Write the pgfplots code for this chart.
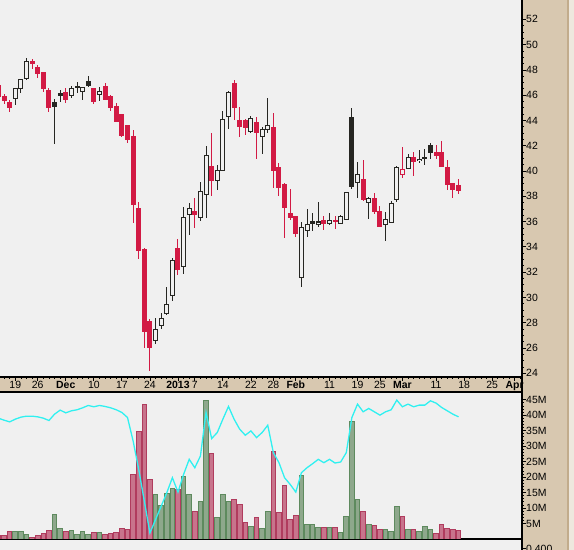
\documentclass[border=0pt]{standalone}
\usepackage{fontspec}
\setmainfont{Liberation Sans}
\usepackage{pgfplots}
\usepackage{pgfplotstable}
\pgfplotsset{compat=1.18}
\definecolor{bgc}{HTML}{F0F0F0}
\definecolor{tanc}{HTML}{D8C8B0}
\definecolor{tanb}{HTML}{C2AC8C}
\definecolor{tanl}{HTML}{EEE8DE}
\definecolor{cred}{HTML}{D21A44}
\definecolor{cblk}{HTML}{262622}
\definecolor{vredf}{HTML}{C8748C}
\definecolor{vredd}{HTML}{B03C5E}
\definecolor{vgrnf}{HTML}{8EA88C}
\definecolor{vgrnd}{HTML}{5E8A5E}
\definecolor{ccyan}{HTML}{30F0F0}
\newcommand\tlab{\fontsize{10.5}{12}\selectfont}
\pgfplotsset{
  wick/.style={draw=none, mark=none, forget plot,
    error bars/.cd, y dir=both, y explicit, error mark=none,
    error bar style={line width=1bp, draw=#1, solid}},
  body/.style n args={2}{draw=none, mark=none, forget plot,
    error bars/.cd, y dir=both, y explicit, error mark=none,
    error bar style={line width=#2, draw=#1, solid}},
}
\begin{document}
% filled red candles
\pgfplotstableread{
i o h l c
-3 46.73 46.80 45.80 45.88
-2 45.86 46.10 45.30 45.57
-1 45.46 45.62 44.70 45.01
3 48.63 48.84 48.07 48.49
4 48.21 48.39 47.39 47.70
5 47.76 47.76 46.28 46.52
6 46.39 46.55 44.70 45.01
9 46.25 46.55 45.41 45.65
14 46.57 46.57 45.33 45.49
16 46.65 46.97 45.65 45.65
17 45.86 46.02 44.78 45.04
18 45.07 45.38 43.91 43.91
19 44.44 44.44 42.67 42.80
20 43.64 43.64 42.24 42.51
21 42.77 43.25 35.91 37.34
22 37.00 37.55 33.07 33.70
23 33.83 33.89 26.03 27.29
24 28.06 28.30 24.21 26.03
29 33.89 34.62 31.80 32.20
32 36.82 37.87 35.52 36.55
35 40.38 43.01 38.05 39.24
39 46.89 47.20 44.04 45.01
40 44.02 45.07 42.72 43.51
41 43.96 44.09 42.83 43.48
43 43.88 44.28 40.98 43.03
46 43.46 44.57 38.68 40.03
47 40.30 40.61 38.05 38.68
48 38.90 39.03 34.73 37.10
49 36.66 38.58 36.15 36.34
50 36.42 36.42 34.81 35.08
55 36.05 36.45 35.37 35.84
57 36.10 36.45 35.42 35.97
62 39.35 40.85 37.66 37.73
64 37.84 38.24 36.58 36.78
65 36.82 37.21 35.60 35.60
71 41.09 41.51 39.63 40.77
75 41.43 42.06 40.98 41.22
76 41.43 42.38 40.35 40.35
77 40.32 40.88 38.50 38.92
78 38.98 38.98 37.89 38.53
79 38.82 39.37 38.21 38.45
}\tfr
% filled black candles
\pgfplotstableread{
i o h l c
7 45.46 45.70 42.16 45.09
8 46.10 46.41 45.49 46.00
11 46.66 47.02 46.20 46.58
13 47.05 47.52 46.63 46.75
53 35.97 36.68 35.28 35.85
60 44.25 44.99 38.58 38.76
74 42.06 42.20 40.93 41.45
}\tfb
% hollow black candles
\pgfplotstableread{
i o h l c
0 45.76 46.55 45.23 46.55
1 46.52 47.26 46.20 47.26
2 47.31 48.92 47.20 48.68
10 45.96 46.71 45.80 46.55
12 46.31 46.63 45.65 46.63
15 46.07 46.65 45.57 46.31
25 26.58 28.37 26.32 27.48
26 27.77 28.75 27.53 28.35
27 28.72 30.80 28.64 29.46
28 30.14 33.12 29.74 32.94
30 32.43 37.16 31.88 36.34
31 36.55 37.47 34.97 37.05
33 36.34 39.11 36.07 38.40
34 38.16 41.98 36.31 41.25
36 39.24 40.48 38.50 40.06
37 40.03 44.73 40.03 44.09
38 44.30 46.33 43.33 46.23
42 43.11 44.33 43.03 44.17
44 42.75 43.49 41.32 43.30
45 43.30 45.76 43.03 43.62
51 31.59 35.95 30.85 35.55
52 35.31 37.00 34.81 35.76
54 35.79 37.53 35.60 35.97
56 35.84 36.68 35.73 36.10
58 35.84 36.50 35.84 36.42
59 36.18 38.32 36.18 38.32
61 39.11 40.69 37.89 39.74
63 37.53 37.92 36.23 37.84
66 35.79 36.74 34.49 36.18
67 35.95 37.61 35.87 37.45
68 37.77 40.40 37.58 40.30
70 40.22 41.35 40.14 41.09
72 40.85 41.67 40.66 40.95
73 40.98 41.74 40.50 41.03
}\thb
% hollow red candles
\pgfplotstableread{
i o h l c
69 39.74 41.90 39.47 40.14
}\thr
% volume, up days (millions)
\pgfplotstableread{
i v
0 2.39
1 2.39
2 1.42
7 8.01
8 3.36
10 2.72
11 1.42
12 2.39
13 1.42
15 2.07
25 14.39
26 10.82
27 14.72
28 16.34
30 20.23
31 14.39
33 12.12
34 44.88
36 6.93
37 14.39
38 12.12
42 4.01
44 3.36
45 8.88
51 20.55
52 4.66
53 4.66
54 3.69
56 3.69
58 2.07
59 7.26
60 38.07
61 12.77
63 4.66
66 3.04
67 2.39
68 10.50
70 3.04
72 2.39
73 4.01
74 3.04
}\tvg
% volume, down days (millions)
\pgfplotstableread{
i v
-3 1.20
-2 1.20
-1 2.39
3 0.55
4 1.09
5 1.85
6 2.72
9 2.39
14 2.07
16 1.42
17 1.85
18 2.07
19 3.36
20 3.04
21 20.88
22 34.83
23 43.58
24 19.26
29 16.01
32 8.88
35 27.69
39 12.77
40 11.15
41 5.31
43 6.93
46 28.34
47 8.55
48 17.31
49 6.28
50 7.58
55 3.69
57 3.69
62 8.88
64 4.34
65 3.04
69 7.26
71 3.04
75 1.74
76 4.66
77 3.36
78 3.04
79 2.72
}\tvr
% indicator line on volume scale
\pgfplotstableread{
i v
-3 39.04
-2 38.39
-1 37.85
0 38.72
1 39.37
2 39.69
3 39.69
4 39.47
5 39.04
6 38.29
7 40.34
8 41.64
9 40.77
10 41.42
11 41.75
12 42.39
13 43.15
14 42.72
15 43.15
16 42.83
17 42.39
18 41.75
19 40.88
20 39.26
21 31.69
22 22.50
23 12.23
24 1.96
25 6.28
26 10.61
27 14.93
28 19.80
29 15.15
30 20.88
31 25.74
32 23.04
33 26.82
34 40.88
35 32.45
36 34.40
37 38.72
38 42.83
39 38.72
40 35.47
41 33.53
42 34.93
43 32.77
44 34.40
45 36.77
46 27.91
47 24.66
48 19.80
49 17.63
50 15.15
51 21.42
52 23.04
53 24.34
54 25.74
55 24.66
56 25.74
57 24.55
58 24.88
59 27.91
60 39.26
61 43.58
62 41.10
63 42.18
64 41.10
65 40.02
66 41.10
67 41.75
68 44.88
69 42.72
70 43.58
71 42.72
72 43.26
73 43.26
74 44.66
75 43.91
76 42.50
77 41.42
78 40.34
79 39.48
}\tosc
\begin{tikzpicture}
\fill[bgc] (0bp,0bp) rectangle (574bp,550bp);
\fill[tanc] (522bp,0bp) rectangle (568bp,550bp);
\fill[tanl] (568.5bp,0bp) rectangle (574bp,550bp);
\draw[tanb, line width=1.5bp] (568bp,0bp) -- (568bp,550bp);
\fill[tanc] (0bp,158bp) rectangle (522bp,173bp);
\begin{axis}[
  at={(0bp,173bp)}, anchor=south west,
  scale only axis, width=522bp, height=377bp,
  xmin=-2.727, xmax=90.32, ymin=23.707, ymax=53.533,
  axis x line*=bottom, axis y line*=right,
  axis line style={line width=1.2bp, -},
  every tick/.style={black, line width=0.8bp},
  tick align=outside,
  major tick length=4bp, minor tick length=2bp,
  ytick={24,26,...,52},
  yticklabels={24,26,28,30,32,34,36,38,40,42,44,46,48,50,52},
  minor y tick num=3,
  yticklabel style={anchor=west, inner sep=0pt, font=\tlab},
  xtick={0,4,9,14,19,24,29,32,37,42,46,50,56,61,65,69,75,80,85,89},
  xticklabels={19,26,\textbf{Dec},10,17,24,\textbf{2013},7,14,22,28,\textbf{Feb},11,19,25,\textbf{Mar},11,18,25,\textbf{Apr}},
  minor xtick={-2,-1,...,90},
  xticklabel style={anchor=base, inner sep=0pt, font=\tlab, yshift=-7.5bp},
]
\addplot[wick=cred] table[x=i, y expr={(\thisrow{h}+\thisrow{l})/2}, y error expr={(\thisrow{h}-\thisrow{l})/2}] {\tfr};
\addplot[wick=cblk] table[x=i, y expr={(\thisrow{h}+\thisrow{l})/2}, y error expr={(\thisrow{h}-\thisrow{l})/2}] {\tfb};
\addplot[wick=cblk] table[x=i, y expr={(\thisrow{h}+\thisrow{l})/2}, y error expr={(\thisrow{h}-\thisrow{l})/2}] {\thb};
\addplot[wick=cred] table[x=i, y expr={(\thisrow{h}+\thisrow{l})/2}, y error expr={(\thisrow{h}-\thisrow{l})/2}] {\thr};
\addplot[body={cred}{5bp}] table[x=i, y expr={(\thisrow{o}+\thisrow{c})/2}, y error expr={max(abs(\thisrow{o}-\thisrow{c})/2+0.04,0.08)}] {\tfr};
\addplot[body={cblk}{5bp}] table[x=i, y expr={(\thisrow{o}+\thisrow{c})/2}, y error expr={max(abs(\thisrow{o}-\thisrow{c})/2+0.04,0.08)}] {\tfb};
\addplot[body={cblk}{5bp}] table[x=i, y expr={(\thisrow{o}+\thisrow{c})/2}, y error expr={max(abs(\thisrow{o}-\thisrow{c})/2+0.04,0.08)}] {\thb};
\addplot[body={cred}{5bp}] table[x=i, y expr={(\thisrow{o}+\thisrow{c})/2}, y error expr={max(abs(\thisrow{o}-\thisrow{c})/2+0.04,0.08)}] {\thr};
\addplot[body={bgc}{3bp}] table[x=i, y expr={(\thisrow{o}+\thisrow{c})/2}, y error expr={max(abs(\thisrow{o}-\thisrow{c})/2-0.045,0)}] {\thb};
\addplot[body={bgc}{3bp}] table[x=i, y expr={(\thisrow{o}+\thisrow{c})/2}, y error expr={max(abs(\thisrow{o}-\thisrow{c})/2-0.045,0)}] {\thr};
\end{axis}
\begin{axis}[
  at={(0bp,11bp)}, anchor=south west,
  scale only axis, width=522bp, height=147bp,
  xmin=-2.727, xmax=90.32, ymin=0, ymax=47.5,
  axis x line*=box, axis y line*=right,
  axis line style={line width=1.2bp, -},
  every tick/.style={black, line width=0.8bp},
  tick align=outside,
  major tick length=4bp, minor tick length=2bp,
  xtick=\empty,
  ytick={5,10,...,45},
  yticklabels={5M,10M,15M,20M,25M,30M,35M,40M,45M},
  minor y tick num=4,
  yticklabel style={anchor=west, inner sep=0pt, font=\tlab},
]
\addplot[ybar, bar width=4.6bp, bar shift=0pt, fill=vgrnf, draw=vgrnd, line width=1bp] table[x=i, y=v] {\tvg};
\addplot[ybar, bar width=4.6bp, bar shift=0pt, fill=vredf, draw=vredd, line width=1bp] table[x=i, y=v] {\tvr};
\addplot[ccyan, line width=1.3bp, mark=none] table[x=i, y=v] {\tosc};
\end{axis}
\draw[line width=1.2bp] (522bp,0bp) -- (522bp,550bp);
\draw[line width=0.8bp] (522bp,1.5bp) -- (526bp,1.5bp);
\node[anchor=west, inner sep=0pt, font=\tlab] at (526bp,1.5bp) {0.400};
\pgfresetboundingbox
\path[use as bounding box] (0bp,0bp) rectangle (574bp,550bp);
\end{tikzpicture}
\end{document}
